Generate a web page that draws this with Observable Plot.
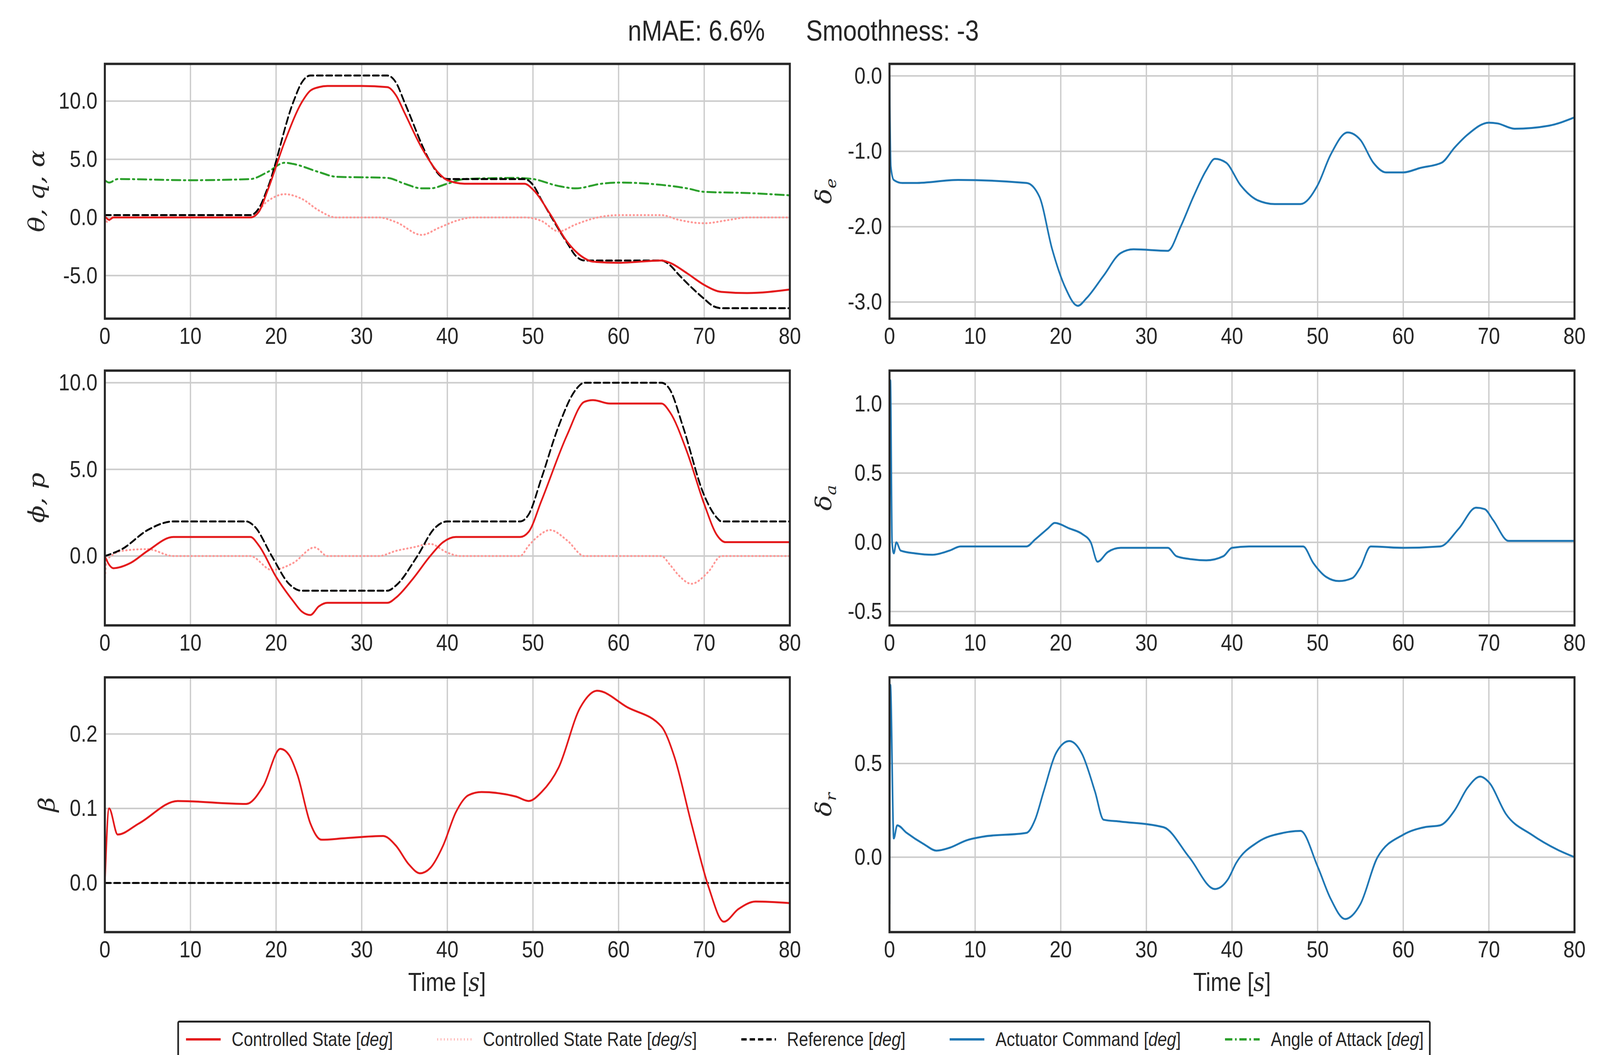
<!DOCTYPE html>
<html><head><meta charset="utf-8">
<script src="https://cdn.jsdelivr.net/npm/d3@7"></script>
<script src="https://cdn.jsdelivr.net/npm/@observablehq/plot@0.6"></script>
<style>
html,body{margin:0;padding:0;overflow:hidden;background:#fff;font-family:"Liberation Sans",Arial,sans-serif;}
#root{position:absolute;left:0;top:0;width:4800px;height:2700px;background:#fff;transform-origin:0 0;}
.abs{position:absolute;}
.ylab{position:absolute;font-size:66px;color:#262626;transform:translate(-50%,-50%) rotate(-90deg);white-space:nowrap;font-style:italic;font-family:"DejaVu Serif",serif;}
.xlab{position:absolute;font-size:66px;color:#262626;transform:translateX(-50%);white-space:nowrap;}
</style></head>
<body><div id="root"></div>
<script>
// ---- data ----
const thetaRefT = [0,17,18,19,22,23,24,33,34,35,38,39,40,49,50,51,54,55,56,65,66,67,70,71,72,80];
const thetaRefV = [0.2,0.2,0.8,2.5,9.9,11.6,12.2,12.2,11.6,9.9,4.8,3.7,3.3,3.3,2.8,1.5,-2.2,-3.3,-3.7,-3.7,-4.1,-4.9,-7.0,-7.6,-7.8,-7.8];
const thetaT = [0,0.5,1,17,18,19,21,23,24,25,26,30,33,34,35,37,39,40,42,49,50,52,54,56,57,60,65,66,68,70,72,75,80];
const thetaV = [0.1,-0.2,0,0,0.5,2.3,6.5,9.9,10.9,11.2,11.3,11.3,11.2,10.5,9.0,6.0,3.8,3.2,2.9,2.9,2.4,0.3,-2.1,-3.5,-3.8,-3.9,-3.7,-3.9,-4.8,-5.8,-6.4,-6.5,-6.2];
const thetaRateT = [0,0.3,0.8,17,19,21,23,25,27,32,34,37,39,41,43,49,51,53,55,57,60,65,67,70,73,75,80];
const thetaRateV = [0,-0.4,0,0,1.4,2.0,1.6,0.6,0,0,-0.4,-1.5,-0.9,-0.3,0,0,-0.3,-1.2,-0.6,-0.1,0.2,0.2,-0.2,-0.5,-0.2,0,0];
const aoaT = [0,0.5,1.5,10,17,19,21,22,25,27,33,35,37,38,40,42,48,50,53,55,58,60,65,68,70,75,80];
const aoaV = [3.2,3.0,3.3,3.2,3.3,3.9,4.7,4.6,3.9,3.5,3.4,2.9,2.5,2.5,2.9,3.3,3.4,3.3,2.7,2.5,2.9,3.0,2.8,2.5,2.2,2.1,1.9];

const phiRefT = [0,2,5,8,16.5,17.5,19.5,21.5,23,33,34,36.5,38.5,40,48.5,49.5,51,53,55,56,65,66,67.5,70,71.5,72,80];
const phiRefV = [0,0.4,1.5,2,2,1.7,0,-1.6,-2,-2,-1.7,0,1.6,2,2,2.4,4.5,7.5,9.6,10,10,9.6,7.5,3.5,2.2,2,2];
const phiT = [0,0.5,1,3,5,8,17,18,20,22,23,24,25,26,33,34,36,38,39.5,41,48.5,49.5,51,54,56,57,59,65,66,68,70,71.5,72.5,80];
const phiV = [0,-0.5,-0.7,-0.4,0.3,1.1,1.1,0.6,-1.2,-2.6,-3.2,-3.4,-2.9,-2.7,-2.7,-2.4,-1.3,0,0.8,1.1,1.1,1.4,3.2,7.0,8.9,9.0,8.8,8.8,8.3,6.0,3.0,1.2,0.8,0.8];
const phiRateT = [0,0.2,1,2,5,8,17,19.5,22,24.5,26,32,34,36,38,40,41.5,48.5,49.5,50.5,52,54,56,65,66,67,68.5,70.5,72,80];
const phiRateV = [-1.5,-0.3,0.1,0.3,0.4,0,0,-0.8,-0.4,0.5,0,0,0.3,0.5,0.7,0.2,0,0,0.6,1.1,1.5,0.9,0,0,-0.5,-1.1,-1.6,-0.9,0,0];

const betaT = [0,0.5,1.5,4,8.5,16.5,18.5,20.5,21.5,22.5,24,25.3,28,32.5,34,35.5,36.8,38,39.5,41,42.5,44,48,49.5,51,53,55.5,57.5,61,65,66.5,68.5,70.5,72.3,74,76,80];
const betaV = [0,0.1,0.065,0.08,0.11,0.106,0.13,0.18,0.172,0.145,0.08,0.058,0.06,0.063,0.05,0.025,0.013,0.02,0.05,0.095,0.118,0.122,0.116,0.11,0.122,0.155,0.235,0.258,0.236,0.21,0.17,0.08,-0.005,-0.052,-0.035,-0.025,-0.027];
const betaRefT = [0,80];
const betaRefV = [0,0];

const deT = [0,0.15,0.5,1.5,3,8,16,17.5,19,20.5,22,23,25,27,28.5,32.5,34,35.5,37,38,39.3,41,43,45,48,50,51.5,53.5,55,56.5,58,60,62,64.5,66,67.5,70,71,73,77,80];
const deV = [0,-1.2,-1.38,-1.42,-1.42,-1.38,-1.42,-1.6,-2.3,-2.8,-3.05,-2.95,-2.65,-2.35,-2.3,-2.32,-2.0,-1.6,-1.25,-1.1,-1.15,-1.45,-1.65,-1.7,-1.7,-1.45,-1.05,-0.75,-0.85,-1.15,-1.28,-1.28,-1.22,-1.15,-0.95,-0.78,-0.62,-0.63,-0.7,-0.66,-0.55];
const daT = [0,0.1,0.3,0.5,0.8,1.3,3,5,7,8.3,16,17,18.5,19.3,21,22.5,23.5,24.3,25.5,27,32.5,33.5,35,37,39,40,42,48.3,49.5,51,52.5,54,55,56.2,60,64.3,66.5,68.5,69.5,70.5,72.3,80];
const daV = [-0.5,1.17,0.0,-0.08,0.0,-0.06,-0.08,-0.09,-0.06,-0.03,-0.03,0.02,0.1,0.14,0.1,0.06,0.0,-0.14,-0.07,-0.04,-0.04,-0.1,-0.12,-0.13,-0.1,-0.04,-0.03,-0.03,-0.15,-0.25,-0.28,-0.26,-0.18,-0.03,-0.04,-0.03,0.1,0.25,0.24,0.16,0.01,0.01];
const drT = [0,0.1,0.5,0.9,2,4,5.5,7,9,11,16,17,18,19.5,21,22.5,24,25,27,32,35,38,39.5,40.5,43,46,48,50,51.5,53.2,55,57,60,62.5,64.3,66,67.5,69,70,72,75,78,80];
const drV = [-0.25,0.92,0.1,0.17,0.13,0.07,0.035,0.05,0.09,0.11,0.13,0.2,0.35,0.56,0.62,0.55,0.35,0.2,0.19,0.16,0.0,-0.17,-0.12,-0.03,0.08,0.13,0.14,-0.05,-0.22,-0.33,-0.25,0.0,0.12,0.16,0.17,0.25,0.37,0.43,0.4,0.23,0.12,0.04,0];

const xTicks = [0,10,20,30,40,50,60,70,80];
const title = "nMAE: 6.6%      Smoothness: -3";

// ---- helpers ----
const C = {state:"#e41a1c", rate:"#ff9896", ref:"#000000", act:"#1f77b4", aoa:"#2ca02c"};
const rows = (T,V)=>T.map((t,i)=>({t,v:V[i]}));
const root = document.getElementById("root");
function fit(){ const sx = window.innerWidth/4800, sy = window.innerHeight/2700; root.style.transform = `scale(${sx},${sy})`; }
fit(); window.addEventListener("resize", fit);
const FH = 652;
const rowTop = [163, 948, 1733];

function panel({left, mL, mR, top, domain, ticks, fmt, series}) {
  const marks = [
    Plot.gridX(xTicks,{stroke:"#cccccc",strokeOpacity:1,strokeWidth:4}),
    Plot.gridY(ticks,{stroke:"#cccccc",strokeOpacity:1,strokeWidth:4}),
    ...series.map(s=>Plot.line(rows(s.T,s.V),{x:"t",y:"v",stroke:s.c,strokeWidth:5,curve:"monotone-x",strokeDasharray:s.dash||null})),
    Plot.frame({stroke:"#262626",strokeWidth:6}),
    Plot.axisX(xTicks,{tickSize:0,tickPadding:22,fontSize:60,fill:"#262626",label:null}),
    Plot.axisY(ticks,{tickSize:0,tickPadding:22,fontSize:60,fill:"#262626",label:null,tickFormat:fmt}),
  ];
  const svg = Plot.plot({
    width:2400, height:FH+130, marginLeft:mL, marginRight:mR, marginTop:10, marginBottom:120,
    x:{domain:[0,80]}, y:{domain}, style:{fontFamily:"Liberation Sans, Arial, sans-serif",background:"transparent",overflow:"visible"},
    marks
  });
  const d = document.createElement("div"); d.className="abs"; d.style.left=left+"px"; d.style.top=(top-10)+"px";
  d.appendChild(svg); root.appendChild(d);
}
function ylab(html,x,y){const d=document.createElement("div");d.className="ylab";d.innerHTML=html;d.style.left=x+"px";d.style.top=y+"px";root.appendChild(d);}

const f1 = d3.format(".1f");
const fm = d=>f1(d).replace("−","-");
panel({left:0,mL:314,mR:31,top:rowTop[0],domain:[-8.7,13.2],ticks:[-5,0,5,10],fmt:fm,series:[
  {T:thetaRateT,V:thetaRateV,c:C.rate,dash:"2,9"},
  {T:aoaT,V:aoaV,c:C.aoa,dash:"26,10,5,10"},
  {T:thetaRefT,V:thetaRefV,c:C.ref,dash:"18,10"},
  {T:thetaT,V:thetaV,c:C.state}]});
panel({left:0,mL:314,mR:31,top:rowTop[1],domain:[-4.0,10.7],ticks:[0,5,10],fmt:fm,series:[
  {T:phiRateT,V:phiRateV,c:C.rate,dash:"2,9"},
  {T:phiRefT,V:phiRefV,c:C.ref,dash:"18,10"},
  {T:phiT,V:phiV,c:C.state}]});
panel({left:0,mL:314,mR:31,top:rowTop[2],domain:[-0.066,0.276],ticks:[0,0.1,0.2],fmt:fm,series:[
  {T:betaRefT,V:betaRefV,c:C.ref,dash:"18,10"},
  {T:betaT,V:betaV,c:C.state}]});
panel({left:2400,mL:268,mR:77,top:rowTop[0],domain:[-3.22,0.16],ticks:[-3,-2,-1,0],fmt:fm,series:[{T:deT,V:deV,c:C.act}]});
panel({left:2400,mL:268,mR:77,top:rowTop[1],domain:[-0.6,1.24],ticks:[-0.5,0,0.5,1],fmt:fm,series:[{T:daT,V:daV,c:C.act}]});
panel({left:2400,mL:268,mR:77,top:rowTop[2],domain:[-0.4,0.96],ticks:[0,0.5],fmt:fm,series:[{T:drT,V:drV,c:C.act}]});

ylab("θ, q, α",110,rowTop[0]+FH/2);
ylab("ϕ, p",110,rowTop[1]+FH/2);
ylab("β",140,rowTop[2]+FH/2);
ylab("δ<sub style='font-size:44px'>e</sub>",2475,rowTop[0]+FH/2);
ylab("δ<sub style='font-size:44px'>a</sub>",2475,rowTop[1]+FH/2);
ylab("δ<sub style='font-size:44px'>r</sub>",2475,rowTop[2]+FH/2);

function xlab(x){const d=document.createElement("div");d.className="xlab";d.innerHTML="Time [<i style='font-family:DejaVu Serif,serif'>s</i>]";d.style.left=x+"px";d.style.top="2475px";root.appendChild(d);}
xlab(1341); xlab(3696);

const t = document.createElement("div");
t.style.cssText="position:absolute;left:0;width:4820px;top:36px;text-align:center;font-size:74px;color:#262626;white-space:pre;";
t.textContent = title; root.appendChild(t);

const legendItems = [
  {label:"Controlled State [<i>deg</i>]", c:C.state, dash:null},
  {label:"Controlled State Rate [<i>deg/s</i>]", c:C.rate, dash:"2,8"},
  {label:"Reference [<i>deg</i>]", c:C.ref, dash:"16,9"},
  {label:"Actuator Command [<i>deg</i>]", c:C.act, dash:null},
  {label:"Angle of Attack [<i>deg</i>]", c:C.aoa, dash:"22,8,5,8"},
];
const lg = document.createElement("div");
lg.style.cssText="position:absolute;left:532px;top:2612px;width:3760px;height:96px;box-sizing:border-box;border:5px solid #262626;border-radius:6px;display:flex;align-items:center;justify-content:space-between;padding:0 16px 0 18px;font-size:50px;color:#262626;";
legendItems.forEach(it=>{
  const s=document.createElement("span"); s.style.cssText="display:flex;align-items:center;white-space:nowrap;";
  s.innerHTML=`<svg width="110" height="20" style="margin-right:30px"><line x1="3" x2="107" y1="10" y2="10" stroke="${it.c}" stroke-width="6" ${it.dash?`stroke-dasharray="${it.dash}"`:""}/></svg>${it.label}`;
  lg.appendChild(s);
});
root.appendChild(lg);
</script></body></html>
